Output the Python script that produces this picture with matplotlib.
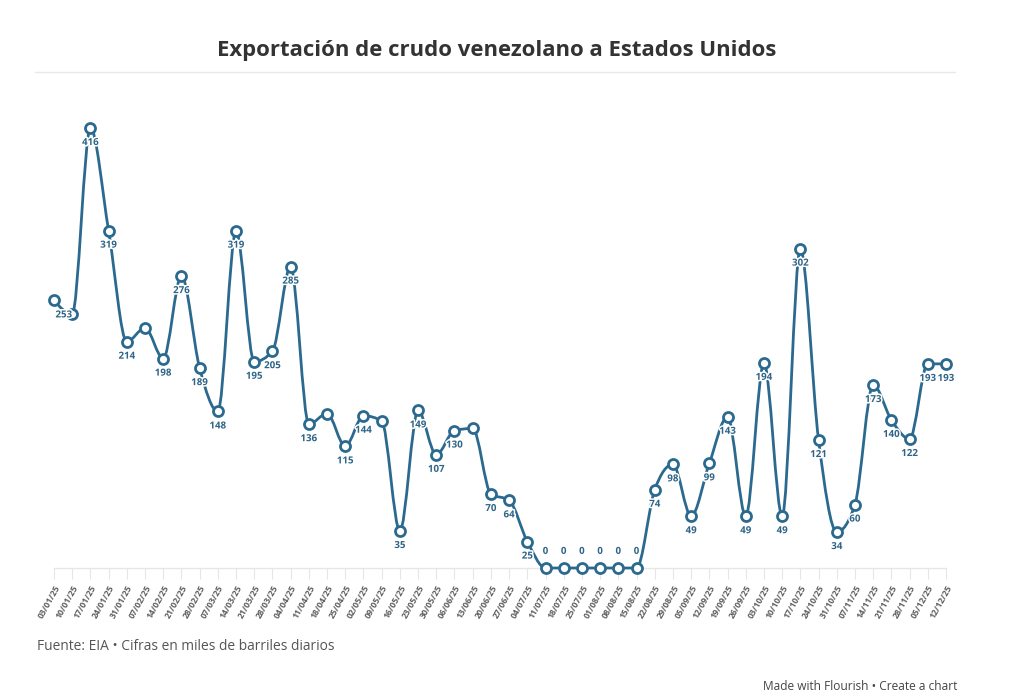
import matplotlib
matplotlib.use('Agg')
import matplotlib.pyplot as plt
from matplotlib.path import Path
from matplotlib.patches import PathPatch
import matplotlib.patheffects as pe
import numpy as np

plt.rcParams['font.family'] = ['Open Sans', 'DejaVu Sans']

# weekly dates (Friday) 2025
fechas = ['03/01/25','10/01/25','17/01/25','24/01/25','31/01/25','07/02/25','14/02/25','21/02/25',
          '28/02/25','07/03/25','14/03/25','21/03/25','28/03/25','04/04/25','11/04/25','18/04/25',
          '25/04/25','02/05/25','09/05/25','16/05/25','23/05/25','30/05/25','06/06/25','13/06/25',
          '20/06/25','27/06/25','04/07/25','11/07/25','18/07/25','25/07/25','01/08/25','08/08/25',
          '15/08/25','22/08/25','29/08/25','05/09/25','12/09/25','19/09/25','26/09/25','03/10/25',
          '10/10/25','17/10/25','24/10/25','31/10/25','07/11/25','14/11/25','21/11/25','28/11/25',
          '05/12/25','12/12/25']
valores = [253, 240, 416, 319, 214, 227, 198, 276, 189, 148, 319, 195, 205, 285, 136, 146,
           115, 144, 139, 35, 149, 107, 130, 132, 70, 64, 25, 0, 0, 0, 0, 0,
           0, 74, 98, 49, 99, 143, 49, 194, 49, 302, 121, 34, 60, 173, 140, 122,
           193, 193]
# points whose label Flourish hides
sin_etiqueta = [1, 5, 15, 18, 23]

LINE = '#2b6a8e'
LBL = '#2e6486'

def monotone_path(x, y):
    # d3 curveMonotoneX as cubic bezier segments
    x = np.asarray(x, float); y = np.asarray(y, float)
    n = len(x)
    h = np.diff(x); s = np.diff(y) / h
    t = np.zeros(n)
    for i in range(1, n - 1):
        h0, h1, s0, s1 = h[i-1], h[i], s[i-1], s[i]
        p = (s0 * h1 + s1 * h0) / (h0 + h1)
        t[i] = (np.sign(s0) + np.sign(s1)) * min(abs(s0), abs(s1), 0.5 * abs(p))
    t[0] = (3 * s[0] - t[1]) / 2
    t[-1] = (3 * s[-1] - t[-2]) / 2
    verts = [(x[0], y[0])]; codes = [Path.MOVETO]
    for i in range(n - 1):
        dx = (x[i+1] - x[i]) / 3
        verts += [(x[i] + dx, y[i] + dx * t[i]), (x[i+1] - dx, y[i+1] - dx * t[i+1]), (x[i+1], y[i+1])]
        codes += [Path.CURVE4] * 3
    return Path(verts, codes)

fig = plt.figure(figsize=(10.24, 6.97), dpi=100)
ax = fig.add_axes([54/1024, 129/697, 892/1024, 440/697])
x = np.arange(len(valores))

ax.add_patch(PathPatch(monotone_path(x, valores), facecolor='none', edgecolor=LINE, lw=2.0,
                       capstyle='round', joinstyle='round', clip_on=False, zorder=3))
ax.plot(x, valores, ls='none', marker='o', ms=7.2, mfc='white', mec=LINE, mew=2.0,
        clip_on=False, zorder=4)

halo = [pe.withStroke(linewidth=2.2, foreground='white')]
for i, v in enumerate(valores):
    if i in sin_etiqueta:
        continue
    if v == 0:
        ax.annotate(str(v), (i, v), xytext=(0, 8), textcoords='offset points', ha='center', va='bottom',
                    fontsize=7, fontweight='bold', color=LBL, zorder=5, path_effects=halo)
    else:
        dx = 7 if i == 0 else 0
        ax.annotate(str(v), (i, v), xytext=(dx, -6.5), textcoords='offset points', ha='center', va='top',
                    fontsize=7, fontweight='bold', color=LBL, zorder=5, path_effects=halo)

ax.set_xlim(0, len(valores) - 1)
ax.set_ylim(0, 416)
ax.set_yticks([])
for sp in ['top', 'right', 'left']:
    ax.spines[sp].set_visible(False)
ax.spines['bottom'].set_color('#e6e6e6')
ax.spines['bottom'].set_linewidth(1)
ax.set_xticks(x)
ax.set_xticklabels(fechas, rotation=61, ha='right', rotation_mode='anchor', fontsize=6.2,
                   fontweight='bold', color='#5e5e5e')
ax.tick_params(axis='x', length=8, width=0.8, color='#e6e6e6', pad=3)

fig.text(0.485, 0.928, 'Exportación de crudo venezolano a Estados Unidos', ha='center', va='center',
         fontsize=15.9, fontweight='bold', color='#333333')
fig.add_artist(plt.Line2D([35/1024, 955/1024], [1 - 72/697] * 2, color='#e8e8e8', lw=1))
fig.text(37/1024, 1 - 646/697, 'Fuente: EIA • Cifras en miles de barriles diarios', ha='left', va='center',
         fontsize=9.95, color='#555555')
fig.text(957/1024, 1 - 687/697, 'Made with Flourish • Create a chart', ha='right', va='center',
         fontsize=8.6, color='#444444')

fig.savefig('out.png', dpi=100)
